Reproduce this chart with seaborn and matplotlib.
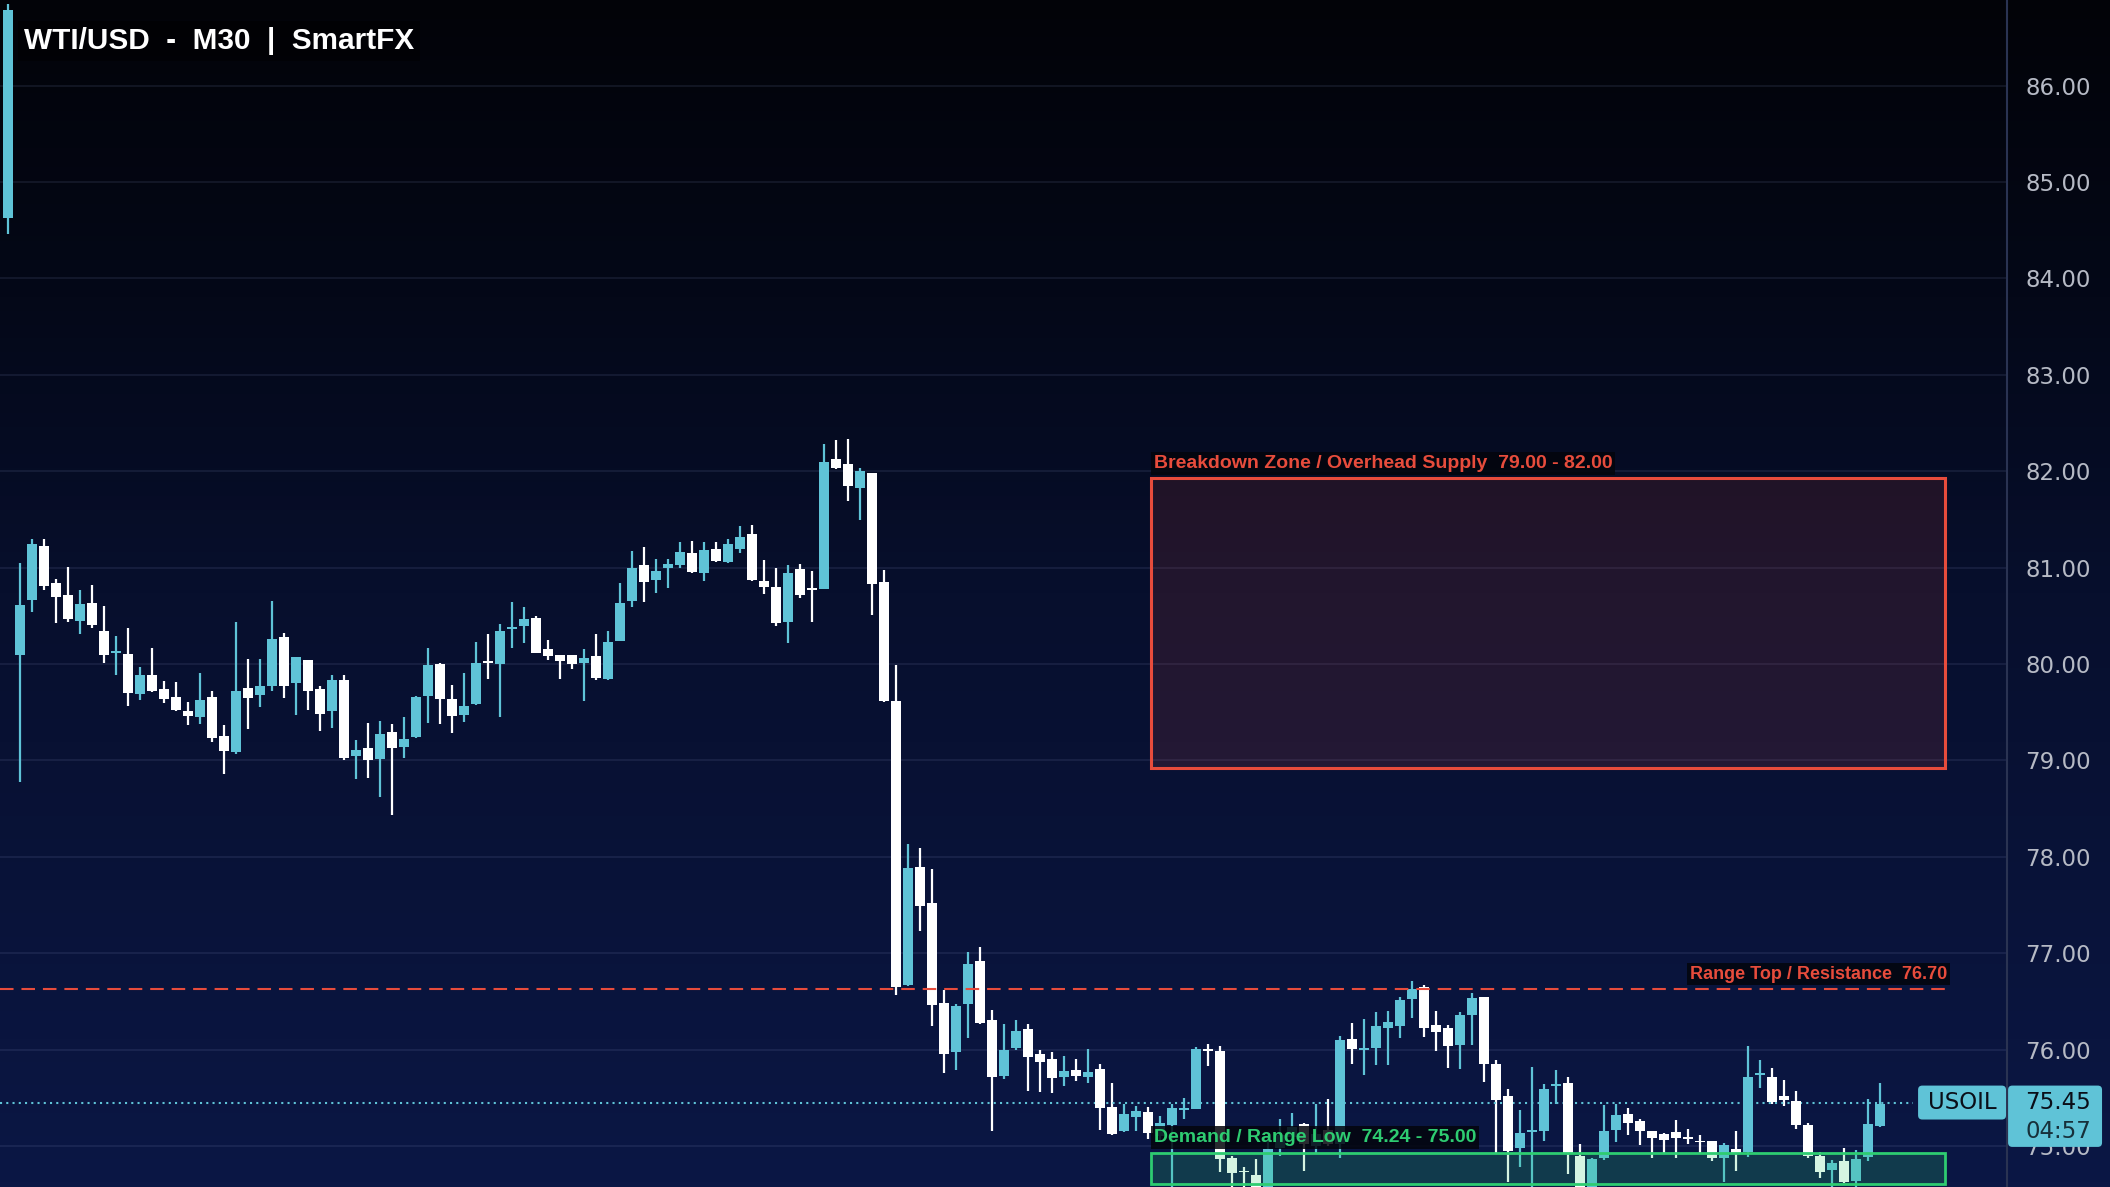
import matplotlib
matplotlib.use("Agg")
import matplotlib.pyplot as plt
import matplotlib.colors as mcolors
from matplotlib.patches import Rectangle, FancyBboxPatch
import numpy as np
import pandas as pd
import seaborn as sns

# M30 candles (oldest first)
opens = [84.63, 80.09, 80.66, 81.22, 80.84, 80.72, 80.45, 80.63, 80.34, 80.12,
         80.10, 79.69, 79.89, 79.74, 79.66, 79.51, 79.45, 79.66, 79.25, 79.09,
         79.75, 79.68, 79.77, 80.28, 79.80, 80.04, 79.74, 79.51, 79.83, 79.04,
         79.13, 79.01, 79.29, 79.14, 79.24, 79.67, 80.00, 79.64, 79.47, 79.58,
         80.03, 80.00, 80.37, 80.39, 80.48, 80.15, 80.09, 80.09, 80.01, 80.08,
         79.84, 80.24, 80.65, 81.03, 80.87, 80.99, 81.03, 81.15, 80.94, 81.19,
         81.06, 81.19, 81.35, 80.86, 80.80, 80.43, 80.98, 80.79, 80.78, 82.13,
         82.07, 81.83, 81.98, 80.85, 79.62, 76.67, 77.89, 77.52, 76.48, 75.97,
         76.47, 76.92, 76.31, 75.73, 76.02, 76.21, 75.95, 75.90, 75.72, 75.79,
         75.72, 75.80, 75.40, 75.15, 75.30, 75.35, 75.10, 75.22, 75.38, 75.38,
         76.00, 75.98, 74.88, 74.74, 74.70, 74.52, 74.98, 75.09, 75.23, 75.00,
         75.17, 75.02, 76.11, 76.00, 76.02, 76.22, 76.24, 76.52, 76.65, 76.25,
         76.22, 76.05, 76.36, 76.54, 75.85, 75.52, 74.98, 75.15, 75.16, 75.63,
         75.65, 74.90, 74.50, 74.87, 75.17, 75.33, 75.26, 75.15, 75.12, 75.14,
         75.09, 75.05, 75.05, 74.88, 74.97, 74.94, 75.74, 75.72, 75.52, 75.47,
         75.22, 74.90, 74.75, 74.84, 74.64, 74.89, 75.21]
highs = [86.85, 81.05, 81.30, 81.30, 80.88, 81.01, 80.77, 80.82, 80.60, 80.29,
         80.37, 79.97, 80.16, 79.82, 79.81, 79.60, 79.91, 79.72, 79.37, 80.43,
         80.05, 80.05, 80.65, 80.32, 80.07, 80.04, 79.77, 79.89, 79.89, 79.21,
         79.39, 79.41, 79.38, 79.45, 79.67, 80.17, 80.01, 79.78, 79.91, 80.23,
         80.31, 80.41, 80.64, 80.59, 80.50, 80.25, 80.09, 80.09, 80.15, 80.31,
         80.34, 80.84, 81.17, 81.21, 81.09, 81.09, 81.26, 81.28, 81.26, 81.26,
         81.30, 81.43, 81.44, 81.08, 80.99, 81.03, 81.04, 80.96, 82.28, 82.32,
         82.33, 82.03, 81.98, 80.97, 79.99, 78.13, 78.09, 77.87, 76.62, 76.47,
         77.01, 77.06, 76.41, 76.27, 76.31, 76.27, 76.00, 75.97, 75.93, 75.90,
         76.01, 75.85, 75.65, 75.43, 75.41, 75.40, 75.31, 75.43, 75.50, 76.03,
         76.06, 76.04, 74.90, 74.78, 74.86, 75.05, 75.28, 75.34, 75.24, 75.43,
         75.49, 76.14, 76.28, 76.32, 76.39, 76.40, 76.55, 76.71, 76.67, 76.40,
         76.25, 76.39, 76.59, 76.55, 75.89, 75.59, 75.37, 75.82, 75.64, 75.79,
         75.71, 75.02, 74.88, 75.42, 75.43, 75.39, 75.28, 75.16, 75.13, 75.27,
         75.18, 75.11, 75.05, 75.03, 75.16, 76.04, 75.89, 75.81, 75.68, 75.57,
         75.24, 74.94, 74.85, 74.98, 74.96, 75.49, 75.65]
lows = [84.46, 78.78, 80.54, 80.77, 80.42, 80.44, 80.31, 80.37, 80.01, 79.89,
        79.56, 79.63, 79.71, 79.59, 79.51, 79.37, 79.38, 79.19, 78.86, 79.07,
        79.33, 79.55, 79.72, 79.65, 79.47, 79.52, 79.30, 79.34, 79.00, 78.81,
        78.82, 78.62, 78.43, 79.02, 79.23, 79.39, 79.38, 79.28, 79.40, 79.57,
        79.84, 79.45, 80.17, 80.22, 80.11, 80.04, 79.84, 79.95, 79.62, 79.83,
        79.83, 80.24, 80.59, 80.64, 80.74, 80.79, 80.99, 80.94, 80.86, 81.06,
        81.05, 81.15, 80.86, 80.73, 80.39, 80.22, 80.68, 80.44, 80.78, 82.02,
        81.69, 81.49, 80.51, 79.61, 76.57, 76.66, 77.23, 76.24, 75.76, 75.79,
        76.12, 76.27, 75.16, 75.69, 75.99, 75.57, 75.56, 75.55, 75.62, 75.67,
        75.65, 75.17, 75.11, 75.14, 75.15, 75.07, 75.05, 74.55, 75.28, 75.38,
        75.83, 74.73, 74.55, 74.55, 74.45, 74.50, 74.90, 75.05, 74.74, 74.93,
        75.00, 74.87, 75.85, 75.74, 75.84, 75.84, 76.12, 76.33, 76.13, 75.98,
        75.81, 75.80, 76.05, 75.66, 74.92, 74.63, 74.78, 74.55, 75.05, 75.44,
        74.71, 74.45, 74.45, 74.85, 75.04, 75.11, 75.01, 74.87, 74.93, 74.88,
        75.02, 74.93, 74.84, 74.63, 74.74, 74.89, 75.60, 75.43, 75.41, 75.18,
        74.88, 74.67, 74.55, 74.62, 74.55, 74.84, 75.20]
closes = [86.78, 80.61, 81.24, 80.81, 80.69, 80.47, 80.62, 80.40, 80.09, 80.13,
          79.70, 79.88, 79.72, 79.64, 79.52, 79.46, 79.63, 79.23, 79.10, 79.72,
          79.65, 79.77, 80.26, 79.77, 80.07, 79.72, 79.48, 79.83, 79.02, 79.11,
          79.00, 79.27, 79.13, 79.22, 79.66, 79.99, 79.64, 79.46, 79.56, 80.01,
          80.01, 80.34, 80.38, 80.47, 80.11, 80.08, 80.03, 80.00, 80.06, 79.85,
          80.23, 80.63, 81.00, 80.85, 80.96, 81.04, 81.16, 80.95, 81.18, 81.07,
          81.24, 81.32, 80.87, 80.80, 80.42, 80.94, 80.72, 80.77, 82.09, 82.03,
          81.85, 82.00, 80.83, 79.62, 76.65, 77.88, 77.49, 76.46, 75.95, 76.45,
          76.89, 76.28, 75.71, 76.00, 76.19, 75.92, 75.87, 75.70, 75.78, 75.73,
          75.77, 75.39, 75.12, 75.33, 75.36, 75.13, 75.24, 75.39, 75.39, 76.01,
          75.99, 74.86, 74.72, 74.73, 74.52, 74.97, 75.11, 75.20, 75.02, 75.12,
          75.02, 76.10, 76.01, 76.01, 76.24, 76.29, 76.51, 76.63, 76.22, 76.18,
          76.04, 76.36, 76.53, 75.85, 75.48, 74.95, 75.13, 75.16, 75.59, 75.64,
          74.93, 74.50, 74.86, 75.16, 75.32, 75.24, 75.15, 75.08, 75.06, 75.08,
          75.08, 75.04, 74.87, 75.01, 74.93, 75.71, 75.75, 75.46, 75.48, 75.22,
          74.90, 74.73, 74.82, 74.63, 74.86, 75.23, 75.44]

title = "WTI/USD  -  M30  |  SmartFX"
symbol = "USOIL"
last_price = 75.45
countdown = "04:57"
supply_zone = (79.00, 82.00)
resistance = 76.70
demand_zone = (74.24, 75.00)
price_ticks = [75, 76, 77, 78, 79, 80, 81, 82, 83, 84, 85, 86]
bold_ticks = [80, 85]

UP = "#5fc3d7"
DOWN = "#ffffff"
RED = "#e74c3c"
GREEN = "#2ecc71"
DARK = "#0a0e18"

df = pd.DataFrame({"open": opens, "high": highs, "low": lows, "close": closes})
df["bar"] = np.arange(len(df))
df["color"] = np.where(df["close"] >= df["open"], UP, DOWN)
span = (df["close"] - df["open"]).abs()
df["body_h"] = span.clip(lower=0.018)
df["body_lo"] = (df["open"] + df["close"]) / 2 - df["body_h"] / 2

sns.set_theme(style="dark")
plt.rcParams["font.family"] = ["Liberation Sans", "DejaVu Sans"]

fig = plt.figure(figsize=(21.1, 11.87), dpi=100)

# background gradient over the whole canvas
bg = fig.add_axes([0, 0, 1, 1], zorder=-1)
cmap = mcolors.LinearSegmentedColormap.from_list(
    "bg", [(0, "#020308"), (0.25, "#040818"), (0.5, "#070f2d"), (1, "#0b1745")])
bg.imshow(np.linspace(0, 1, 256)[:, None], aspect="auto", cmap=cmap, extent=[0, 1, 0, 1])
bg.set_axis_off()

ax = fig.add_axes([0, 0, 2007 / 2110, 1])
ax.set_facecolor("none")
x_lo, x_hi = -0.667, 166.58
y_lo, y_hi = 74.574, 86.887
ax.set_xlim(x_lo, x_hi)
ax.set_ylim(y_lo, y_hi)

# price grid + right-hand axis
ax.set_axisbelow(True)
ax.set_xticks([])
ax.set_yticks(price_ticks)
ax.set_yticklabels([f"{t:.2f}" for t in price_ticks], fontfamily="DejaVu Sans")
for t, lab in zip(price_ticks, ax.get_yticklabels()):
    if t in bold_ticks:
        lab.set_fontweight("bold")
ax.yaxis.tick_right()
ax.tick_params(axis="y", length=0, pad=13, labelsize=16.5, labelcolor="#b6bac5")
ax.grid(axis="y", color="#8a96c8", alpha=0.13, lw=1.3)
ax.grid(axis="x", visible=False)
for s in ["top", "left", "bottom"]:
    ax.spines[s].set_visible(False)
ax.spines["right"].set_color("#2a3352")
ax.spines["right"].set_linewidth(1.5)

# candles
ax.vlines(df["bar"], df["low"], df["high"], colors=df["color"], lw=1.6, zorder=3)
ax.bar(df["bar"], df["body_h"], bottom=df["body_lo"], width=0.84,
       color=df["color"], linewidth=0, zorder=4)

# overlays sit slightly under their labelled levels on the source chart
shift = -0.075
zx0, zx1 = 95.25, 161.4
lbl_box = dict(boxstyle="square,pad=0.15", fc="#03050c", ec="none", alpha=0.85)

s_lo, s_hi = supply_zone[0] + shift, supply_zone[1] + shift
ax.add_patch(Rectangle((zx0, s_lo), zx1 - zx0, s_hi - s_lo,
                       facecolor=mcolors.to_rgba(RED, 0.12), edgecolor=RED, lw=2.2, zorder=2))
ax.text(zx0 + 0.22, s_hi + 0.07,
        f"Breakdown Zone / Overhead Supply  {supply_zone[0]:.2f} - {supply_zone[1]:.2f}",
        color=RED, ha="left", va="bottom", bbox=lbl_box,
        fontsize=14, fontweight="bold", zorder=9)

r_y = resistance + shift
ax.hlines(r_y, x_lo, 162.0, colors=RED, lw=1.5, linestyles=(0, (6.5, 3.8)), zorder=6)
ax.text(161.59, r_y + 0.07, f"Range Top / Resistance  {resistance:.2f}",
        color=RED, ha="right", va="bottom", bbox=lbl_box,
        fontsize=13, fontweight="bold", zorder=9)

d_hi = demand_zone[1] + shift
d_lo = max(demand_zone[0] + shift, y_lo + 0.03)
ax.add_patch(Rectangle((zx0, d_lo), zx1 - zx0, d_hi - d_lo,
                       facecolor=mcolors.to_rgba(GREEN, 0.2), edgecolor=GREEN, lw=2, zorder=5))
ax.text(zx0 + 0.25, d_hi + 0.07,
        f"Demand / Range Low  {demand_zone[0]:.2f} - {demand_zone[1]:.2f}",
        color=GREEN, ha="left", va="bottom", bbox=lbl_box,
        fontsize=14, fontweight="bold", zorder=9)

# last price line and tags
ax.hlines(last_price, x_lo, 158.75, colors=UP, lw=1.5, linestyles=(0, (1, 2)), zorder=3.5)
ax.add_patch(FancyBboxPatch((159.17, last_price - 0.176), 7.33, 0.352,
                            boxstyle="round,pad=0,rounding_size=0.35", mutation_aspect=0.1245,
                            fc=UP, ec="none", zorder=8, clip_on=False))
ax.text(162.83, last_price, symbol, color=DARK, fontsize=16.5, fontfamily="DejaVu Sans",
        ha="center", va="center", zorder=9)
ax.add_patch(FancyBboxPatch((166.67, last_price - 0.46), 7.83, 0.636,
                            boxstyle="round,pad=0,rounding_size=0.35", mutation_aspect=0.1245,
                            fc=UP, ec="none", zorder=8, clip_on=False))
ax.text(168.08, last_price, f"{last_price:.2f}", color=DARK, fontsize=16.5,
        fontfamily="DejaVu Sans", ha="left", va="center", zorder=9, clip_on=False)
ax.text(168.08, last_price - 0.296, countdown, color="#17303a", fontsize=16.5,
        fontfamily="DejaVu Sans", ha="left", va="center", zorder=9, clip_on=False)

fig.text(24 / 2110, 1 - 41 / 1187, title, color="white", fontsize=21.4, fontweight="bold",
         ha="left", va="center",
         bbox=dict(boxstyle="square,pad=0.2", fc="#000000", ec="none", alpha=0.45))

fig.savefig("out.png", dpi=100)
